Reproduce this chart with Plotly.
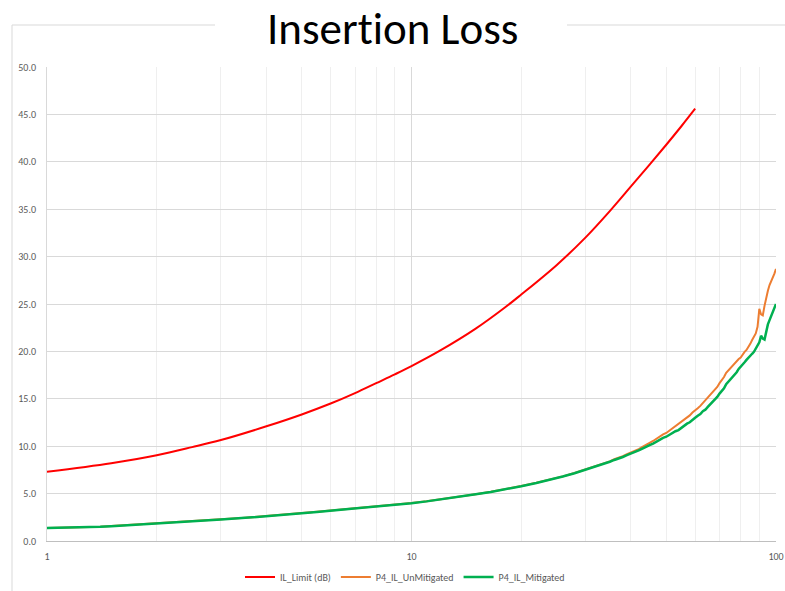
import plotly.graph_objects as go

# IL limit line (dB) vs frequency (GHz)
freq_limit = [1, 1.5, 2, 2.5, 3, 4, 5, 6, 7, 8, 9, 10, 12, 15, 18, 20, 25, 30,
              35, 40, 45, 50, 55, 60]
il_limit = [7.30, 8.20, 9.05, 9.90, 10.65, 12.10, 13.35, 14.50, 15.60, 16.65,
            17.58, 18.45, 20.10, 22.40, 24.60, 26.00, 29.10, 32.00, 34.80,
            37.40, 39.70, 41.80, 43.75, 45.60]

# measured channel frequencies (GHz)
freq_meas = [1, 1.1, 1.2, 1.3, 1.4, 1.5, 1.7, 2, 2.3, 2.6, 3, 3.5, 4, 4.5, 5,
             5.5, 6, 7, 8, 9, 10, 11, 12, 13, 14, 15, 16.5, 18, 20, 22, 24, 26,
             28, 30, 31, 32, 33, 34, 35, 36, 37, 38, 39, 40, 41, 42, 43, 44,
             45, 46, 47, 48, 49, 50, 51, 52, 53, 54, 55, 56, 57, 58, 59, 60,
             61, 62, 63, 64, 65, 66, 67, 68, 69, 70, 71, 72, 73, 74, 75, 76,
             77, 78, 79, 80, 81, 82, 83, 84, 85, 86, 87, 88, 89, 90, 91, 92,
             93, 94, 95, 96, 97, 98, 99, 100]

il_unmitigated = [1.37, 1.39, 1.41, 1.45, 1.51, 1.57, 1.71, 1.91, 2.03, 2.15,
                  2.29, 2.45, 2.61, 2.79, 2.95, 3.08, 3.21, 3.41, 3.61, 3.81,
                  4.00, 4.19, 4.38, 4.57, 4.75, 4.93, 5.19, 5.44, 5.80, 6.14,
                  6.46, 6.82, 7.17, 7.55, 7.70, 7.88, 8.05, 8.25, 8.40, 8.62,
                  8.75, 8.95, 9.15, 9.32, 9.55, 9.70, 9.92, 10.10, 10.35,
                  10.55, 10.80, 10.95, 11.25, 11.40, 11.65, 11.85, 12.10,
                  12.30, 12.55, 12.75, 13.05, 13.25, 13.55, 13.75, 14.00,
                  14.25, 14.55, 14.75, 15.10, 15.35, 15.65, 15.95, 16.25,
                  16.65, 16.95, 17.30, 17.75, 18.00, 18.30, 18.55, 18.75,
                  18.95, 19.20, 19.35, 19.70, 19.95, 20.15, 20.45, 20.80,
                  21.20, 21.50, 21.90, 22.60, 24.50, 23.90, 23.80, 24.80,
                  25.80, 26.40, 27.00, 27.35, 27.85, 28.20, 28.70]

il_mitigated = [1.36, 1.38, 1.40, 1.44, 1.50, 1.56, 1.70, 1.90, 2.02, 2.14,
                2.28, 2.44, 2.60, 2.78, 2.94, 3.07, 3.20, 3.40, 3.60, 3.80,
                3.99, 4.18, 4.37, 4.56, 4.74, 4.92, 5.17, 5.42, 5.78, 6.12,
                6.44, 6.80, 7.15, 7.52, 7.66, 7.85, 8.00, 8.20, 8.36, 8.55,
                8.68, 8.86, 9.05, 9.20, 9.40, 9.55, 9.75, 9.90, 10.12, 10.28,
                10.50, 10.65, 10.88, 11.00, 11.22, 11.35, 11.58, 11.70, 11.95,
                12.10, 12.38, 12.52, 12.80, 13.00, 13.22, 13.40, 13.70, 13.85,
                14.15, 14.40, 14.62, 14.95, 15.20, 15.55, 15.85, 16.10, 16.55,
                16.80, 17.05, 17.30, 17.55, 17.80, 18.15, 18.35, 18.60, 18.85,
                19.10, 19.30, 19.45, 19.75, 19.95, 20.25, 20.55, 20.95, 21.65,
                21.35, 21.25, 22.20, 22.85, 23.30, 23.70, 24.20, 24.55, 25.00]

x_ticks = [1, 10, 100]
x_tick_text = ["1", "10", "100"]
x_minor = [2, 3, 4, 5, 6, 7, 8, 9, 20, 30, 40, 50, 60, 70, 80, 90]

FONT = "Carlito, Lato, sans-serif"
GREY_TXT = "#595959"

fig = go.Figure()
fig.add_trace(go.Scatter(x=freq_limit, y=il_limit, mode="lines",
                         name="IL_Limit (dB)", line=dict(color="#FF0000", width=2, shape="spline")))
fig.add_trace(go.Scatter(x=freq_meas, y=il_unmitigated, mode="lines",
                         name="P4_IL_UnMitigated", line=dict(color="#ED7D31", width=2)))
fig.add_trace(go.Scatter(x=freq_meas, y=il_mitigated, mode="lines",
                         name="P4_IL_Mitigated", line=dict(color="#00B050", width=2.5)))


def px_x(p):
    return (p - 47) / 729


def px_y(p):
    return (541 - p) / 474


# chart frame: top rule broken by the title, plus the left edge
frame = dict(color="#D9D9D9", width=1)
fig.add_shape(type="line", xref="paper", yref="paper", x0=px_x(12), x1=px_x(215),
              y0=px_y(25), y1=px_y(25), line=frame)
fig.add_shape(type="line", xref="paper", yref="paper", x0=px_x(567), x1=px_x(800),
              y0=px_y(25), y1=px_y(25), line=frame)
fig.add_shape(type="line", xref="paper", yref="paper", x0=px_x(12), x1=px_x(12),
              y0=px_y(25), y1=px_y(600), line=frame)

fig.add_annotation(text="Insert\u200cion Loss", xref="paper", yref="paper",
                   x=px_x(392), y=px_y(28), xanchor="center", yanchor="middle",
                   showarrow=False, borderpad=0,
                   font=dict(family=FONT, size=45, color="#000000"))

fig.update_layout(
    width=785, height=591,
    margin=dict(l=47, r=9, t=67, b=50, autoexpand=False),
    paper_bgcolor="white", plot_bgcolor="white",
    font=dict(family=FONT, size=10, color=GREY_TXT),
    showlegend=True,
    legend=dict(orientation="h", x=px_x(405), y=px_y(577), xanchor="center",
                yanchor="middle", font=dict(family=FONT, size=10, color=GREY_TXT),
                itemwidth=30, tracegroupgap=0),
)
fig.update_xaxes(type="log", range=[0, 2], tickmode="array", tickvals=x_ticks,
                 ticktext=x_tick_text, showgrid=True, gridcolor="#D9D9D9", gridwidth=1,
                 showline=True, linecolor="#BFBFBF", linewidth=1, zeroline=False,
                 ticks="", ticklabelstandoff=6, automargin=False,
                 minor=dict(tickmode="array", tickvals=x_minor, showgrid=True,
                            gridcolor="#EFEFEF", gridwidth=1))
fig.update_yaxes(range=[0, 50], tickmode="linear", tick0=0, dtick=5, tickformat=".1f",
                 showgrid=True, gridcolor="#D9D9D9", gridwidth=1,
                 showline=True, linecolor="#D9D9D9", linewidth=1, zeroline=False,
                 ticks="", ticklabelstandoff=8, automargin=False)

fig.write_html("out.html")
